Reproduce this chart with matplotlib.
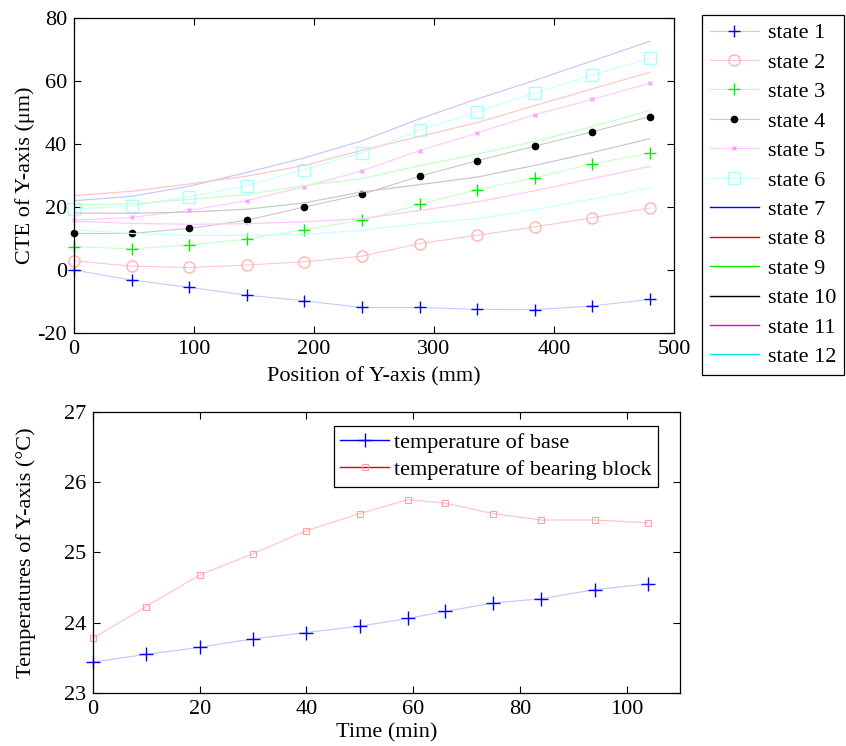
import matplotlib
matplotlib.use("Agg")
import matplotlib.pyplot as plt
from matplotlib.lines import Line2D

plt.rcParams["font.family"] = ["Liberation Serif", "DejaVu Serif"]
plt.rcParams["font.size"] = 16
plt.rcParams["axes.unicode_minus"] = False

# CTE along the Y-axis, measured states 1-6 and computed states 7-12
position = [0, 48, 96, 144, 192, 240, 288, 336, 384, 432, 480]

state1 = [0.0, -3.2, -5.5, -8.0, -9.8, -11.9, -11.9, -12.5, -12.6, -11.4, -9.3]
state2 = [2.9, 1.2, 0.8, 1.6, 2.6, 4.4, 8.4, 11.0, 13.7, 16.6, 19.7]
state3 = [7.4, 6.7, 7.9, 9.8, 12.8, 15.8, 20.8, 25.5, 29.3, 33.7, 37.1]
state4 = [11.6, 11.6, 13.2, 15.8, 20.0, 24.0, 29.8, 34.7, 39.3, 43.9, 48.7]
state5 = [15.8, 16.7, 18.9, 22.0, 26.5, 31.5, 37.9, 43.5, 49.3, 54.2, 59.3]
state6 = [19.3, 20.4, 23.2, 26.8, 31.9, 37.2, 44.4, 50.2, 56.2, 61.9, 67.2]
state7 = [22.0, 23.4, 26.6, 31.0, 35.6, 41.0, 48.0, 54.3, 60.2, 66.4, 72.6]
state8 = [23.6, 25.0, 27.3, 29.8, 33.2, 38.0, 42.4, 46.8, 52.2, 57.5, 62.8]
state9 = [20.7, 21.0, 22.4, 24.0, 26.8, 29.0, 33.1, 36.8, 40.8, 45.5, 50.7]
state10 = [18.1, 18.0, 18.4, 19.3, 21.3, 24.8, 27.1, 29.5, 33.2, 37.3, 41.7]
state11 = [15.5, 14.8, 14.5, 14.7, 15.3, 16.3, 18.9, 21.6, 25.2, 29.0, 32.9]
state12 = [12.8, 11.6, 11.0, 11.0, 11.3, 12.6, 14.7, 16.3, 19.2, 22.5, 26.1]

# temperatures recorded during the run
time_min = [0, 10, 20, 30, 40, 50, 59, 66, 75, 84, 94, 104]
temp_base = [23.44, 23.55, 23.65, 23.77, 23.86, 23.95, 24.06, 24.16, 24.28, 24.34, 24.47, 24.55]
temp_bearing = [23.78, 24.23, 24.68, 24.98, 25.31, 25.55, 25.75, 25.70, 25.55, 25.46, 25.46, 25.42]

measured = [
    ("state 1", state1, "#c8c8ff", "+", "#0000ff", 9, None),
    ("state 2", state2, "#ffc8c8", "o", "#ffb4b4", 8, "none"),
    ("state 3", state3, "#c8ffc8", "+", "#00ee00", 9, None),
    ("state 4", state4, "#c8c8c8", "o", "#000000", 4.5, "#000000"),
    ("state 5", state5, "#ffc8ff", "x", "#ff9cff", 3.5, None),
    ("state 6", state6, "#c8ffff", "s", "#a8ffff", 8, "none"),
]
computed = [
    ("state 7", state7, "#c8c8ff", "#0000ff"),
    ("state 8", state8, "#ffc8c8", "#e00000"),
    ("state 9", state9, "#c8ffc8", "#00ee00"),
    ("state 10", state10, "#c8c8c8", "#000000"),
    ("state 11", state11, "#ffc8ff", "#e000e0"),
    ("state 12", state12, "#c8ffff", "#00e8e8"),
]


def style_axes(ax):
    ax.tick_params(direction="in", length=5, width=0.8, top=True, right=True,
                   labelsize=16, pad=5)
    for sp in ax.spines.values():
        sp.set_linewidth(0.9)


fig = plt.figure(figsize=(8.46, 7.46), dpi=100)

ax1 = fig.add_axes([74 / 846, 1 - 333 / 746, 600 / 846, 315 / 746])
handles = []
for label, ys, lc, mk, mc, ms, mfc in measured:
    kw = dict(color=lc, lw=0.8, marker=mk, markersize=ms, markeredgecolor=mc,
              markeredgewidth=1.0)
    kw["markerfacecolor"] = mc if mfc is None else mfc
    ax1.plot(position, ys, clip_on=False, **kw)
    handles.append(Line2D([], [], label=label, **kw))
for label, ys, lc, hc in computed:
    ax1.plot(position, ys, color=lc, lw=0.9)
    handles.append(Line2D([], [], color=hc, lw=1.0, label=label))

ax1.set_xlim(0, 500)
ax1.set_ylim(-20, 80)
ax1.set_xticks(range(0, 501, 100))
ax1.set_yticks(range(-20, 81, 20))
ax1.set_xlabel("Position of Y-axis (mm)", labelpad=6)
ax1.set_ylabel("CTE of Y-axis (\u03bcm)", labelpad=2)
style_axes(ax1)

leg1 = fig.legend(handles=handles, loc="upper left",
                  bbox_to_anchor=(702 / 846, 1 - 15 / 746), frameon=True,
                  fancybox=False, edgecolor="black", framealpha=1, fontsize=16,
                  handlelength=2.2, handletextpad=0.4, labelspacing=0.40,
                  borderpad=0.35, borderaxespad=0)
leg1.get_frame().set_linewidth(0.9)

ax2 = fig.add_axes([93 / 846, 1 - 693 / 746, 587 / 846, 281.3 / 746])
ax2.plot(time_min, temp_base, color="#c8c8ff", lw=0.9, marker="+", markersize=10,
         markeredgecolor="#0000ff", markeredgewidth=1.0, clip_on=False)
ax2.plot(time_min, temp_bearing, color="#ffc8c8", lw=0.9, marker="s", markersize=4,
         markeredgecolor="#ffa0a0", markerfacecolor="none", markeredgewidth=0.8,
         clip_on=False)
leg_handles = [
    Line2D([], [], color="#0000ff", lw=1.0, marker="+", markersize=10,
           markeredgewidth=1.0, label="temperature of base"),
    Line2D([], [], color="#e00000", lw=1.0, marker="s", markersize=4,
           markeredgecolor="#ffa0a0", markerfacecolor="none", markeredgewidth=0.8,
           label="temperature of bearing block"),
]
ax2.set_xlim(0, 110)
ax2.set_ylim(23, 27)
ax2.set_xticks(range(0, 101, 20))
ax2.set_yticks(range(23, 28))
ax2.set_xlabel("Time (min)", labelpad=3)
ax2.set_ylabel("Temperatures of Y-axis (\u00b0C)", labelpad=20)
style_axes(ax2)
leg2 = ax2.legend(handles=leg_handles, loc="upper right",
                  bbox_to_anchor=(0.9625, 0.950), frameon=True, fancybox=False,
                  edgecolor="black", framealpha=1, fontsize=16, handlelength=2.2,
                  handletextpad=0.2, labelspacing=0.3, borderpad=0.3,
                  borderaxespad=0)
leg2.get_frame().set_linewidth(0.9)

fig.savefig("out.png", dpi=100)
